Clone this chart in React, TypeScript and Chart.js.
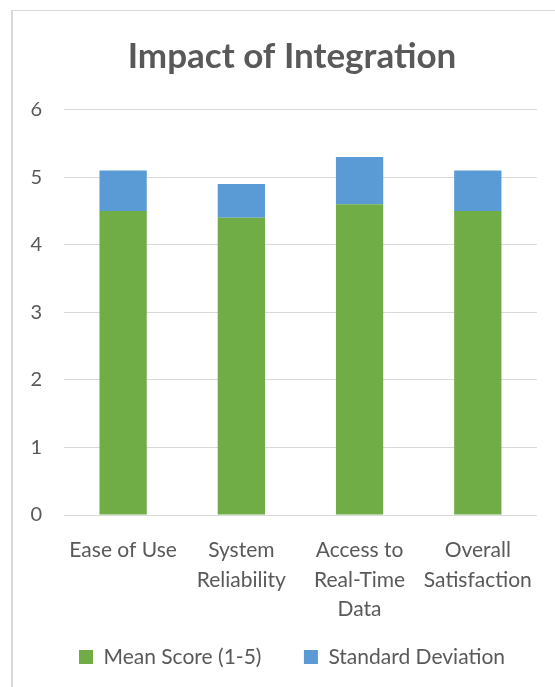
import React, { useEffect, useRef } from "react";
import { Chart, registerables } from "chart.js";

Chart.register(...registerables);

const categories: string[][] = [
  ["Ease of Use"],
  ["System", "Reliability"],
  ["Access to", "Real-Time", "Data"],
  ["Overall", "Satisfaction"],
];
const meanScores = [4.5, 4.4, 4.6, 4.5];
const stdDevs = [0.6, 0.5, 0.7, 0.6];
const seriesNames = ["Mean Score (1-5)", "Standard Deviation"];
const yTicks = [0, 1, 2, 3, 4, 5, 6];
const titleText = "Impact of Integration";

const W = 555;
const H = 687;
const TEXT = "#595959";
const FONT = "Lato";

const borderPlugin = {
  id: "frameBorder",
  beforeDraw(chart: any) {
    const ctx = chart.ctx;
    ctx.save();
    ctx.fillStyle = "#D9D9D9";
    ctx.fillRect(11, 10, 2, H);
    ctx.fillRect(11, 10, W, 1);
    ctx.restore();
  },
};

export default function App() {
  const ref = useRef<HTMLCanvasElement | null>(null);

  useEffect(() => {
    if (!ref.current) return;
    const chart = new Chart(ref.current, {
      type: "bar",
      data: {
        labels: categories,
        datasets: [
          {
            label: seriesNames[0],
            data: meanScores,
            backgroundColor: "#70AD47",
            borderWidth: 0,
            categoryPercentage: 1,
            barPercentage: 0.4,
          },
          {
            label: seriesNames[1],
            data: stdDevs,
            backgroundColor: "#5B9BD5",
            borderWidth: 0,
            categoryPercentage: 1,
            barPercentage: 0.4,
          },
        ],
      },
      options: {
        responsive: false,
        animation: false,
        devicePixelRatio: 1,
        layout: { padding: { left: 29, right: 0, top: 0, bottom: 9.5 } },
        plugins: {
          title: {
            display: true,
            text: titleText,
            color: TEXT,
            font: { family: FONT, size: 35, weight: "bold", lineHeight: 1.2 },
            padding: { top: 36, bottom: 31.7 },
          },
          legend: {
            position: "bottom",
            labels: {
              color: TEXT,
              font: { family: FONT, size: 21 },
              boxWidth: 14,
              boxHeight: 14,
              padding: 21,
              generateLabels(chart: any) {
                const items = Chart.defaults.plugins.legend.labels.generateLabels(chart);
                if (items.length > 0) items[0].text = items[0].text + "    ";
                return items;
              },
            },
          },
          tooltip: { enabled: false },
        },
        scales: {
          x: {
            stacked: true,
            grid: { display: false, drawTicks: false },
            border: { display: false },
            ticks: {
              color: TEXT,
              font: { family: FONT, size: 21, lineHeight: 1.39 },
              padding: 21,
              maxRotation: 0,
              minRotation: 0,
              autoSkip: false,
            },
            afterFit(scale: any) {
              scale.height = 110.5;
            },
          },
          y: {
            stacked: true,
            min: yTicks[0],
            max: yTicks[yTicks.length - 1],
            afterBuildTicks(scale: any) {
              scale.ticks = yTicks.map((v) => ({ value: v }));
            },
            ticks: {
              color: TEXT,
              font: { family: FONT, size: 20 },
              padding: 22,
            },
            grid: { color: "#D9D9D9", lineWidth: 1, drawTicks: false },
            border: { display: false },
            afterFit(scale: any) {
              scale.width = 35;
            },
          },
          yRight: {
            position: "right",
            display: true,
            grid: { display: false, drawTicks: false },
            border: { display: false },
            ticks: { display: false },
            afterFit(scale: any) {
              scale.width = 18;
            },
          },
        },
      },
      plugins: [borderPlugin],
    } as any);
    return () => chart.destroy();
  }, []);

  return (
    <div
      style={{
        position: "fixed",
        left: 0,
        top: 0,
        width: W,
        height: H,
        overflow: "hidden",
        background: "#ffffff",
      }}
    >
      <canvas ref={ref} width={W} height={H} style={{ width: W, height: H, display: "block" }} />
    </div>
  );
}
